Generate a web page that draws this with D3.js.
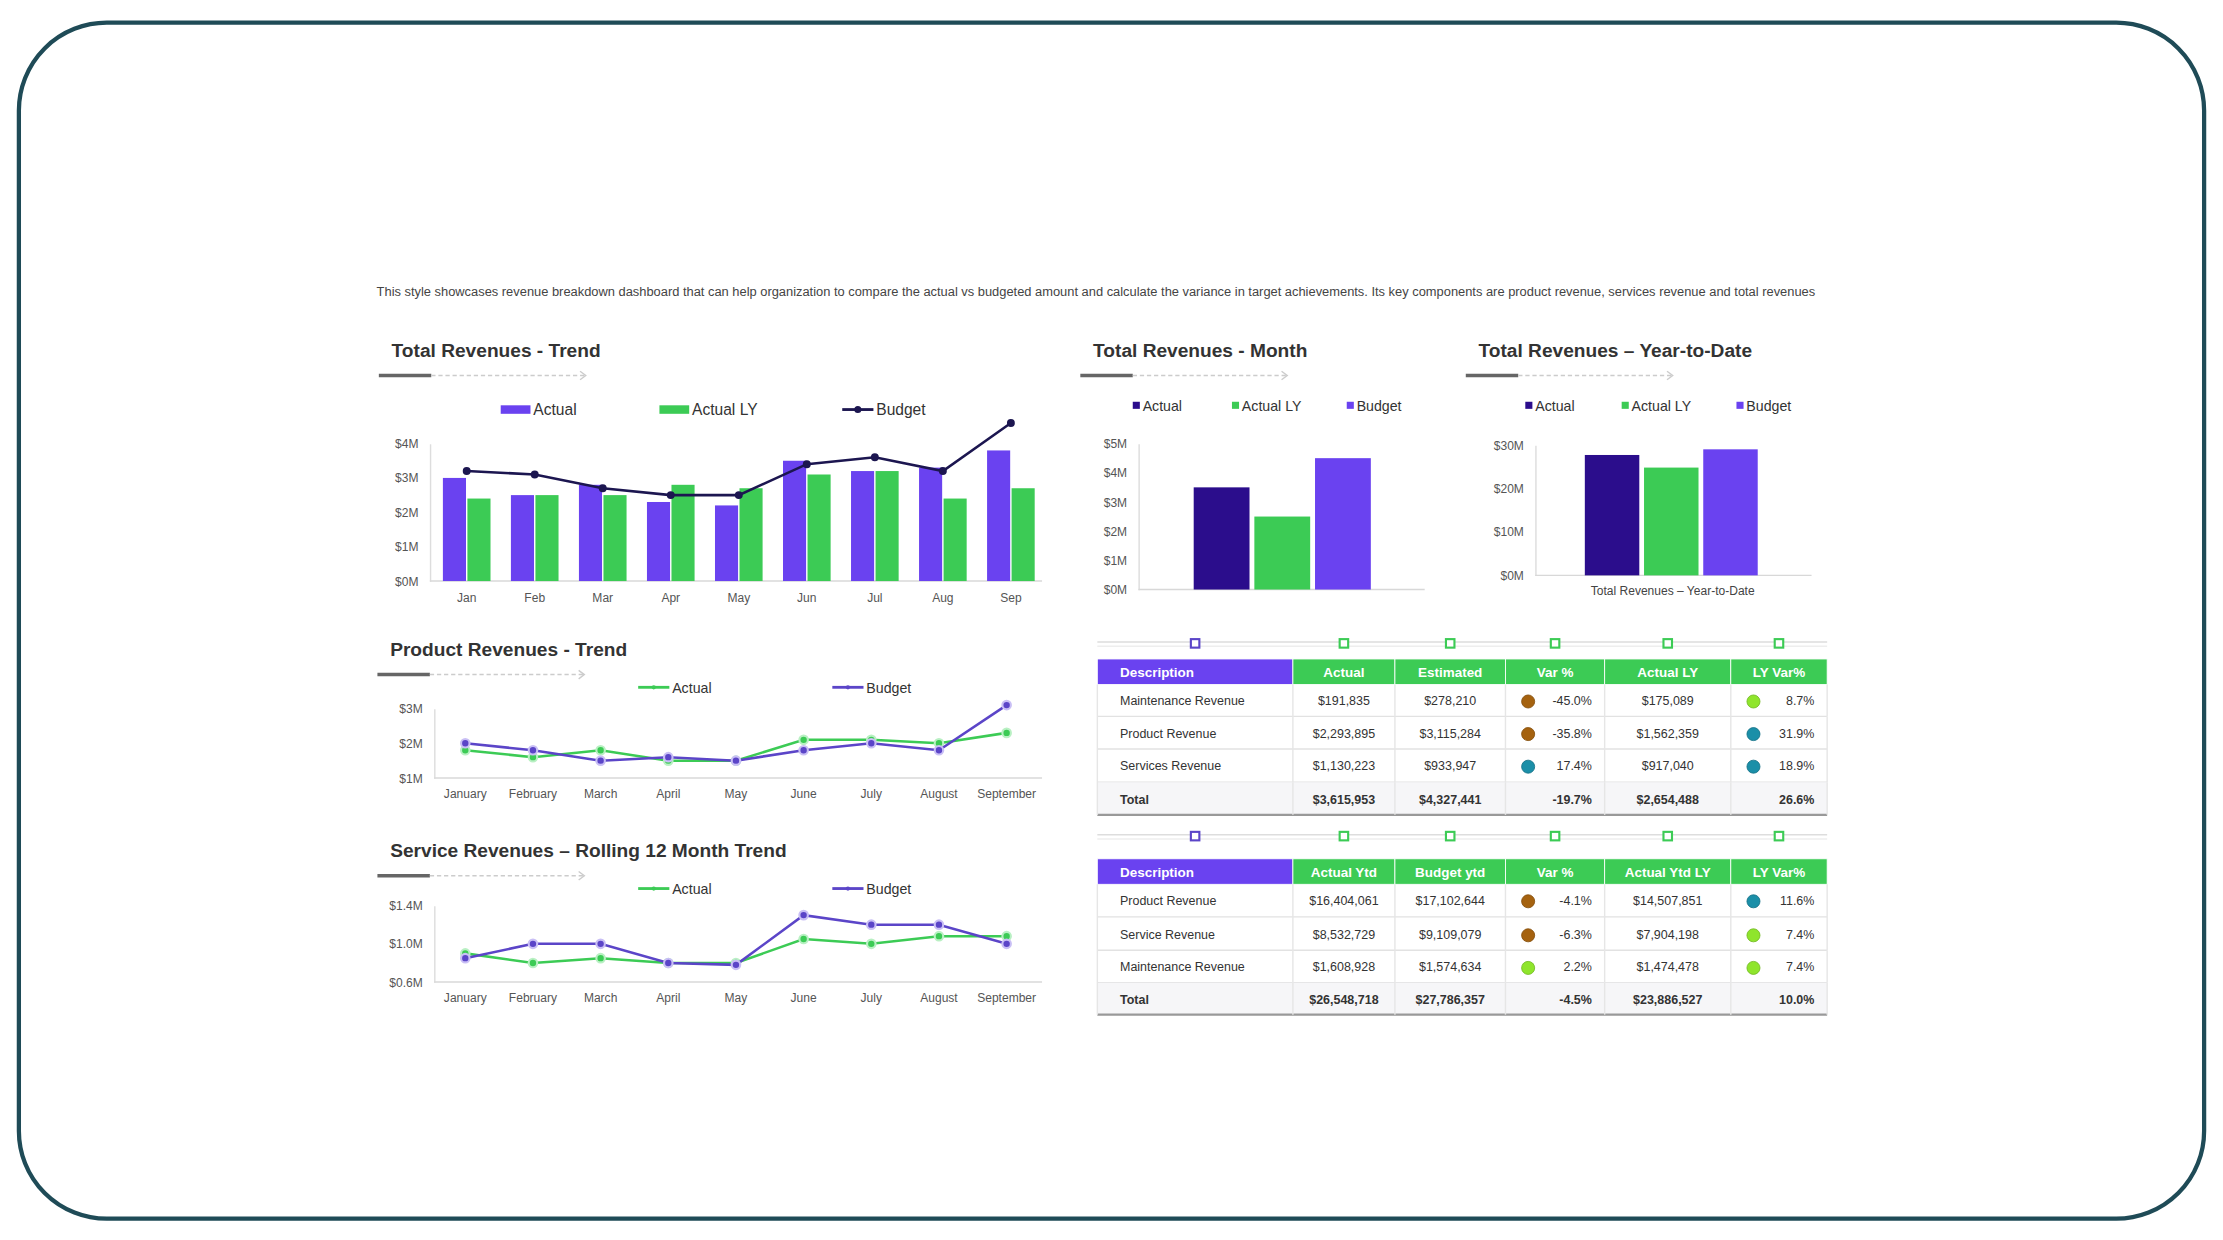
<!DOCTYPE html>
<html><head><meta charset="utf-8">
<script src="https://cdn.jsdelivr.net/npm/d3@7"></script>
<style>body{margin:0;background:#fff}svg{display:block}text{font-family:"Liberation Sans",Arial,sans-serif}</style>
</head><body>
<script>
const months=["Jan","Feb","Mar","Apr","May","Jun","Jul","Aug","Sep"];
const monthsLong=["January","February","March","April","May","June","July","August","September"];
const trendActual=[3.0,2.5,2.8,2.3,2.2,3.5,3.2,3.3,3.8];
const trendActualLY=[2.4,2.5,2.5,2.8,2.7,3.1,3.2,2.4,2.7];
const trendBudget=[3.2,3.1,2.7,2.5,2.5,3.4,3.6,3.2,4.6];
const monthSeries=["Actual","Actual LY","Budget"];
const monthValues=[3.5,2.5,4.5];
const ytdValues=[27.7,24.8,29.0];
const prodActual=[1.8,1.6,1.8,1.5,1.5,2.1,2.1,2.0,2.3];
const prodBudget=[2.0,1.8,1.5,1.6,1.5,1.8,2.0,1.8,3.1];
const servActual=[0.9,0.8,0.85,0.8,0.8,1.05,1.0,1.08,1.08];
const servBudget=[0.85,1.0,1.0,0.8,0.78,1.3,1.2,1.2,1.0];
const table1Head=["Description","Actual","Estimated","Var %","Actual LY","LY Var%"];
const table1Rows=[
 ["Maintenance Revenue","$191,835","$278,210","-45.0%","$175,089","8.7%"],
 ["Product Revenue","$2,293,895","$3,115,284","-35.8%","$1,562,359","31.9%"],
 ["Services Revenue","$1,130,223","$933,947","17.4%","$917,040","18.9%"],
 ["Total","$3,615,953","$4,327,441","-19.7%","$2,654,488","26.6%"]];
const table1Dots=[["brown","lime"],["brown","teal"],["teal","teal"],[null,null]];
const table2Head=["Description","Actual Ytd","Budget ytd","Var %","Actual Ytd LY","LY Var%"];
const table2Rows=[
 ["Product Revenue","$16,404,061","$17,102,644","-4.1%","$14,507,851","11.6%"],
 ["Service Revenue","$8,532,729","$9,109,079","-6.3%","$7,904,198","7.4%"],
 ["Maintenance Revenue","$1,608,928","$1,574,634","2.2%","$1,474,478","7.4%"],
 ["Total","$26,548,718","$27,786,357","-4.5%","$23,886,527","10.0%"]];
const table2Dots=[["brown","teal"],["brown","lime"],["lime","lime"],[null,null]];

const PURPLE="#6a42f0",GREEN="#3ccb55",NAVY="#2b0d8c",DARK="#1c1650",LINEP="#5b45c8";
const dotCol={brown:"#a5620f",teal:"#1b8fa8",lime:"#8fe52c"};
const svg=d3.select("body").append("svg").attr("width",2223).attr("height",1240).attr("viewBox","0 0 1568 875");
svg.append("rect").attr("x",13).attr("y",16).attr("width",1542).attr("height",844).attr("rx",62)
 .attr("fill","#fff").attr("stroke","#1f4b57").attr("stroke-width",3);
svg.append("text").attr("x",773).attr("y",209).attr("text-anchor","middle").attr("font-size",9.1).attr("fill","#444")
 .text("This style showcases revenue breakdown dashboard that can help organization to compare the actual vs budgeted amount and calculate the variance in target achievements. Its key components are product revenue, services revenue and total revenues");

function title(x,y,t){
 svg.append("text").attr("x",x+9).attr("y",y).attr("font-size",13.5).attr("font-weight","bold").attr("fill","#333").text(t);
 svg.append("line").attr("x1",x).attr("x2",x+37).attr("y1",y+13).attr("y2",y+13).attr("stroke","#666").attr("stroke-width",2.5);
 svg.append("line").attr("x1",x+37).attr("x2",x+145).attr("y1",y+13).attr("y2",y+13).attr("stroke","#ccc").attr("stroke-dasharray","3,2");
 svg.append("path").attr("d",`M${x+142},${y+10}l4,3l-4,3`).attr("fill","none").attr("stroke","#ccc");
}
function yAxis(g,y,x,ticks,fmt){
 const a=g.append("g").attr("transform",`translate(${x},0)`).call(d3.axisLeft(y).tickValues(ticks).tickFormat(fmt).tickSize(0).tickPadding(8));
 a.select(".domain").attr("stroke","#ddd");a.selectAll("text").attr("font-size",8.5).attr("fill","#555");
}
function xBase(x0,x1,y){svg.append("line").attr("x1",x0).attr("x2",x1).attr("y1",y).attr("y2",y).attr("stroke","#d8d8d8");}
function legRect(x,y,c,t,w,h,fs){svg.append("rect").attr("x",x).attr("y",y-h/2).attr("width",w).attr("height",h).attr("fill",c);
 svg.append("text").attr("x",x+w+2).attr("y",y+4).attr("font-size",fs).attr("fill","#333").text(t);}
function legLine(x,y,c,t,fs,r){svg.append("line").attr("x1",x).attr("x2",x+22).attr("y1",y).attr("y2",y).attr("stroke",c).attr("stroke-width",2);
 svg.append("circle").attr("cx",x+11).attr("cy",y).attr("r",r).attr("fill",c);
 svg.append("text").attr("x",x+24).attr("y",y+4).attr("font-size",fs).attr("fill","#333").text(t);}

// Chart 1
title(267,252,"Total Revenues - Trend");
legRect(353,289,PURPLE,"Actual",21,6,11);legRect(465,289,GREEN,"Actual LY",21,6,11);legLine(594,289,DARK,"Budget",11,2.5);
{
 const x=d3.scaleBand().domain(months).range([305,737]).paddingInner(0.3).paddingOuter(0.15);
 const y=d3.scaleLinear().domain([0,4]).range([410,313]);
 yAxis(svg,y,303,[0,1,2,3,4],d=>"$"+d+"M");xBase(303,735,410);
 const bw=x.bandwidth()/2-0.5;
 svg.selectAll(".b1").data(trendActual).join("rect").attr("x",(d,i)=>x(months[i])).attr("y",d=>y(d)).attr("width",bw).attr("height",d=>410-y(d)).attr("fill",PURPLE);
 svg.selectAll(".b2").data(trendActualLY).join("rect").attr("x",(d,i)=>x(months[i])+bw+1).attr("y",d=>y(d)).attr("width",bw).attr("height",d=>410-y(d)).attr("fill",GREEN);
 const cx=i=>x(months[i])+bw+0.5;
 svg.append("path").attr("d",d3.line().x((d,i)=>cx(i)).y(d=>y(d))(trendBudget)).attr("fill","none").attr("stroke",DARK).attr("stroke-width",1.8);
 svg.selectAll(".bd").data(trendBudget).join("circle").attr("cx",(d,i)=>cx(i)).attr("cy",d=>y(d)).attr("r",2.8).attr("fill",DARK);
 svg.selectAll(".xl").data(months).join("text").attr("x",(d,i)=>cx(i)).attr("y",425).attr("text-anchor","middle").attr("font-size",8.5).attr("fill","#555").text(d=>d);
}
// Chart 2
title(762,252,"Total Revenues - Month");
legRect(799,286,NAVY,"Actual",5,5,10);legRect(869,286,GREEN,"Actual LY",5,5,10);legRect(950,286,PURPLE,"Budget",5,5,10);
{
 const cols=[NAVY,GREEN,PURPLE];
 const x=d3.scaleBand().domain(monthSeries).range([842,967]).paddingInner(0.08);
 const y=d3.scaleLinear().domain([0,5]).range([416,313]);
 yAxis(svg,y,803,[0,1,2,3,4,5],d=>"$"+d+"M");xBase(803,1005,416);
 svg.selectAll(".m").data(monthValues).join("rect").attr("x",(d,i)=>x(monthSeries[i])).attr("y",d=>y(d)).attr("width",x.bandwidth()).attr("height",d=>416-y(d)).attr("fill",(d,i)=>cols[i]);
}
// Chart 3
title(1034,252,"Total Revenues \u2013 Year-to-Date");
legRect(1076,286,NAVY,"Actual",5,5,10);legRect(1144,286,GREEN,"Actual LY",5,5,10);legRect(1225,286,PURPLE,"Budget",5,5,10);
{
 const cols=[NAVY,GREEN,PURPLE];
 const x=d3.scaleBand().domain(monthSeries).range([1118,1240]).paddingInner(0.08);
 const y=d3.scaleLinear().domain([0,30]).range([406,314]);
 yAxis(svg,y,1083,[0,10,20,30],d=>"$"+d+"M");xBase(1083,1278,406);
 svg.selectAll(".y").data(ytdValues).join("rect").attr("x",(d,i)=>x(monthSeries[i])).attr("y",d=>y(d)).attr("width",x.bandwidth()).attr("height",d=>406-y(d)).attr("fill",(d,i)=>cols[i]);
 svg.append("text").attr("x",1180).attr("y",420).attr("text-anchor","middle").attr("font-size",8.5).attr("fill","#444").text("Total Revenues \u2013 Year-to-Date");
}
// Line charts
function lineChart(tY,tText,legY,axisTop,axisBot,dom,ticks,fmt,act,bud,labY){
 title(266,tY,tText);
 legLine(450,legY,GREEN,"Actual",10,1.5);legLine(587,legY,LINEP,"Budget",10,1.5);
 const x=d3.scalePoint().domain(monthsLong).range([328,710]);
 const y=d3.scaleLinear().domain(dom).range([axisBot,axisTop]);
 yAxis(svg,y,306,ticks,fmt);xBase(306,735,axisBot);
 [[act,GREEN,"#b9f0c3"],[bud,LINEP,"#c9bff5"]].forEach(([s,c,h])=>{
  svg.append("path").attr("d",d3.line().x((d,i)=>x(monthsLong[i])).y(d=>y(d))(s)).attr("fill","none").attr("stroke",c).attr("stroke-width",1.8);
  svg.append("g").selectAll("circle").data(s).join("circle").attr("cx",(d,i)=>x(monthsLong[i])).attr("cy",d=>y(d)).attr("r",3).attr("fill",c).attr("stroke",h).attr("stroke-width",1.5);
 });
 svg.append("g").selectAll("text").data(monthsLong).join("text").attr("x",d=>x(d)).attr("y",labY).attr("text-anchor","middle").attr("font-size",8.5).attr("fill","#555").text(d=>d);
}
lineChart(463,"Product Revenues - Trend",485,500,549,[1,3],[1,2,3],d=>"$"+d+"M",prodActual,prodBudget,563);
lineChart(605,"Service Revenues \u2013 Rolling 12 Month Trend",627,639,693,[0.6,1.4],[0.6,1.0,1.4],d=>"$"+d.toFixed(1)+"M",servActual,servBudget,707);

// Tables
const colX=[774,912,984,1062,1132,1221,1289];
function table(decoY,headTop,rowC,rows,head,dots,bottom){
 svg.append("line").attr("x1",774).attr("x2",1289).attr("y1",decoY).attr("y2",decoY).attr("stroke","#ddd");
 svg.append("line").attr("x1",774).attr("x2",1289).attr("y1",decoY+3).attr("y2",decoY+3).attr("stroke","#eee");
 head.forEach((h,i)=>{const cx=(colX[i]+colX[i+1])/2;
  svg.append("rect").attr("x",cx-3).attr("y",decoY-2).attr("width",6).attr("height",6).attr("fill","#fff").attr("stroke",i?GREEN:LINEP).attr("stroke-width",1.5);
  svg.append("rect").attr("x",colX[i]).attr("y",headTop).attr("width",colX[i+1]-colX[i]).attr("height",18).attr("fill",i?GREEN:PURPLE).attr("stroke","#fff").attr("stroke-width",0.6);
  svg.append("text").attr("x",i?cx:790).attr("y",headTop+12.5).attr("text-anchor",i?"middle":"start").attr("font-size",9.5).attr("font-weight","bold").attr("fill","#fff").text(h);
 });
 rows.forEach((r,ri)=>{const yc=rowC[ri],tot=ri===3;const top=ri===0?headTop+18:(rowC[ri-1]+yc)/2;const bot=ri===3?bottom:(yc+rowC[ri+1])/2;
  if(tot)svg.append("rect").attr("x",774).attr("y",top).attr("width",515).attr("height",bot-top).attr("fill","#f6f6f8");
  svg.append("line").attr("x1",774).attr("x2",1289).attr("y1",bot).attr("y2",bot).attr("stroke",tot?"#999":"#e2e2e2").attr("stroke-width",tot?1.5:1);
  r.forEach((v,ci)=>{
   svg.append("line").attr("x1",colX[ci+1]).attr("x2",colX[ci+1]).attr("y1",top).attr("y2",bot).attr("stroke","#e6e6e6");
   let tx,anc="middle";
   if(ci===0){tx=790;anc="start";}else if(ci===3||ci===5){tx=colX[ci+1]-9;anc="end";}else tx=(colX[ci]+colX[ci+1])/2;
   svg.append("text").attr("x",tx).attr("y",yc+3.5).attr("text-anchor",anc).attr("font-size",8.8).attr("font-weight",tot?"bold":"normal").attr("fill","#333").text(v);
  });
  dots[ri].forEach((d,k)=>{if(!d)return;const cx=colX[k?5:3]+16;
   svg.append("circle").attr("cx",cx).attr("cy",yc+1).attr("r",4.6).attr("fill",dotCol[d]).attr("stroke",d3.color(dotCol[d]).darker(0.6)).attr("stroke-width",0.6);});
 });
 svg.append("line").attr("x1",774).attr("x2",774).attr("y1",headTop+18).attr("y2",bottom).attr("stroke","#e6e6e6");
}
table(453,465,[494,517,540,564],table1Rows,table1Head,table1Dots,575);
table(589,606,[635,659,682,705],table2Rows,table2Head,table2Dots,716);
</script>
</body></html>
